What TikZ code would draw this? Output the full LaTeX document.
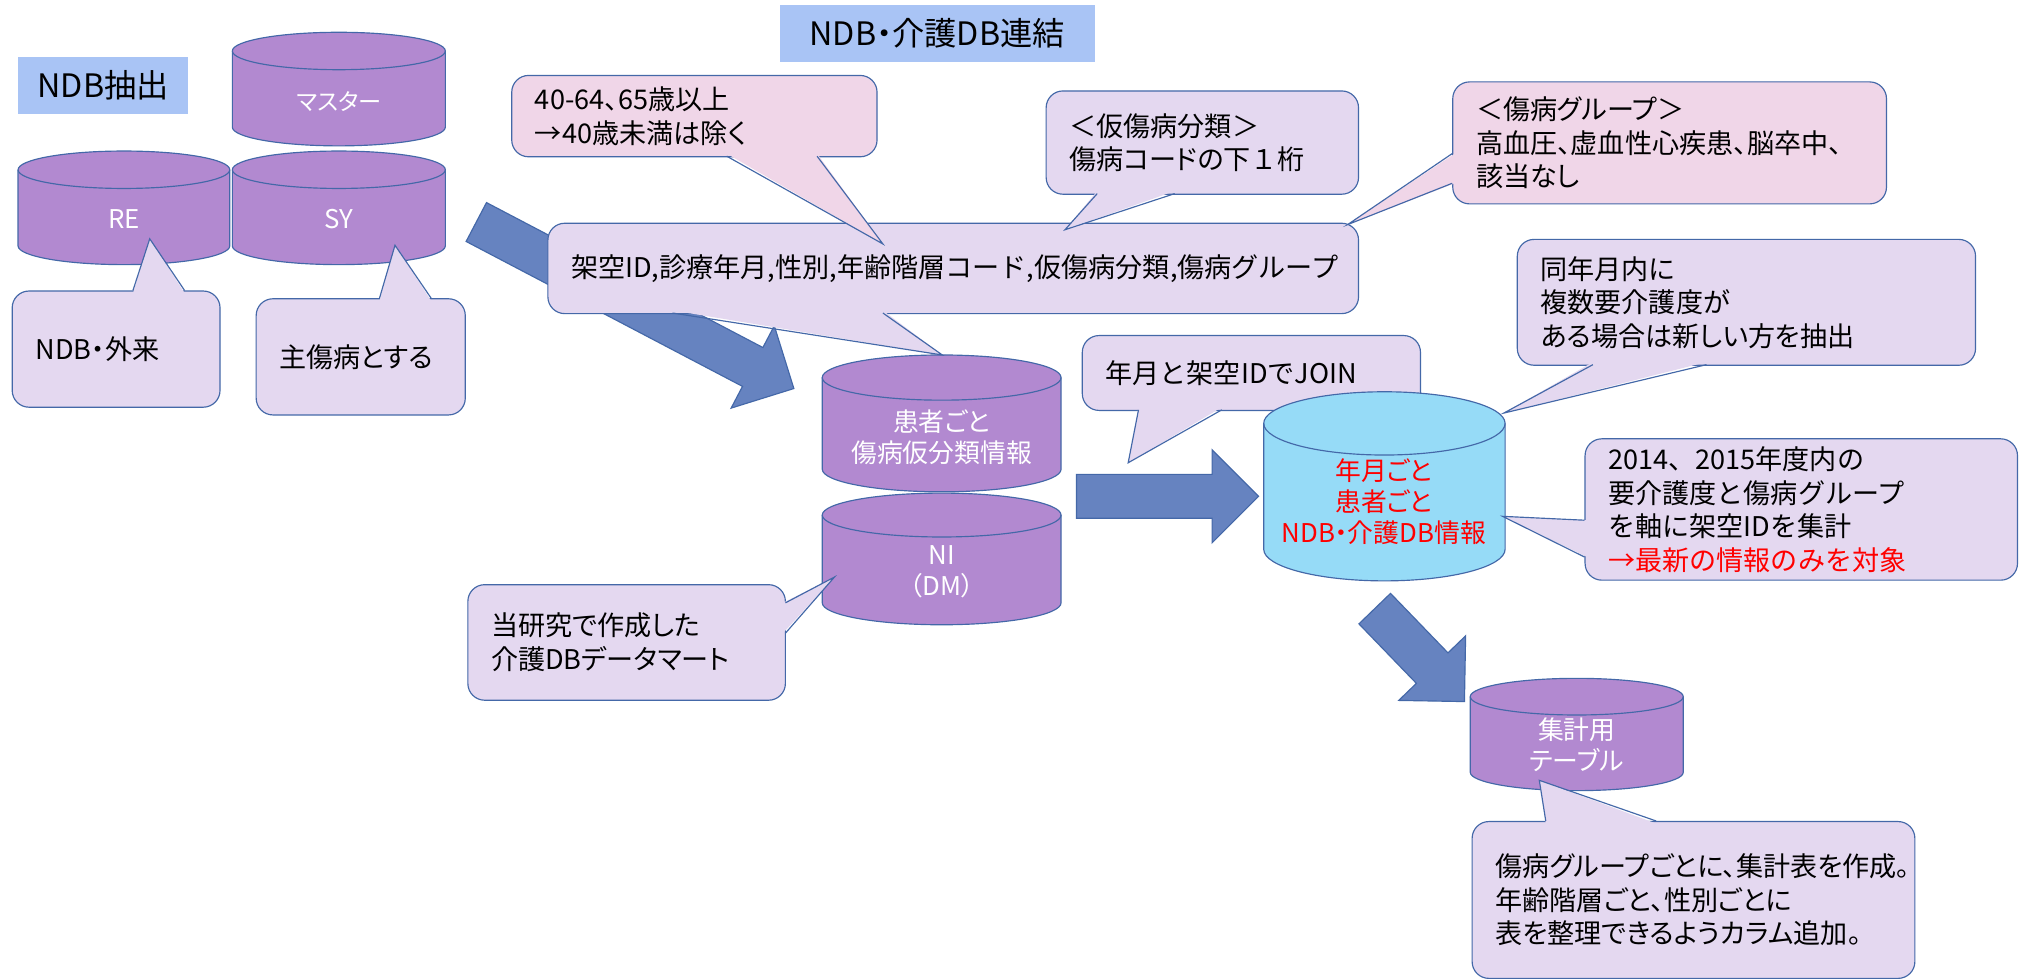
\documentclass[tikz,border=0pt]{standalone}
\usepackage{fontspec}
\setmainfont{Noto Sans CJK JP}
\newfontfamily\uifont{Noto Sans CJK JP}[RawFeature=+palt]
\usetikzlibrary{calc}

\definecolor{headblue}{RGB}{169,196,245}
\definecolor{dbpurple}{RGB}{178,137,208}
\definecolor{dbcyan}{RGB}{150,219,247}
\definecolor{notepurple}{RGB}{228,216,240}
\definecolor{notepink}{RGB}{240,214,232}
\definecolor{arrowblue}{RGB}{102,131,192}
\definecolor{edgeblue}{RGB}{68,104,168}

% callout tail: fill, base 1, tip, base 2, shift into the box
\newcommand\calltail[5]{%
    \fill[#1] ($#2+#5$) -- #3 -- ($#4+#5$) -- cycle;
    \draw[tailedge] #2 -- #3 -- #4;}

% database drum: style, left, top, width, height, y radius
\newcommand\dbcyl[6]{%
    \filldraw[#1] (#2,#3+#6) -- (#2,#3+#5-#6)
        arc[start angle=180, end angle=360, x radius=#4/2*1pt, y radius=#6*1pt]
        -- (#2+#4,#3+#6)
        arc[start angle=0, end angle=180, x radius=#4/2*1pt, y radius=#6*1pt] -- cycle;
    \draw[#1, fill=none] (#2,#3+#6)
        arc[start angle=180, end angle=360, x radius=#4/2*1pt, y radius=#6*1pt];}

% block arrow from tail to tip
\newcommand\fatarrow[2]{%
    \path #2 coordinate (fa tip) #1 coordinate (fa tail);
    \path ($(fa tip)!36pt!(fa tail)$) coordinate (fa head);
    \filldraw[blockarrow] ($(fa tail)!17pt!90:(fa tip)$) -- ($(fa head)!17pt!-90:(fa tail)$)
        -- ($(fa head)!36pt!-90:(fa tail)$) -- (fa tip) -- ($(fa head)!36pt!90:(fa tail)$)
        -- ($(fa head)!17pt!90:(fa tail)$) -- ($(fa tail)!17pt!-90:(fa tip)$) -- cycle;}

\begin{document}
\begin{tikzpicture}
    [x=1pt, y=-1pt,
    heading/.style={fill=headblue, inner sep=0pt, font=\uifont\fontsize{25}{30}\selectfont},
    db/.style={draw=edgeblue, line width=0.9pt, fill=dbpurple},
    dbtext/.style={text=white, align=center, inner sep=0pt, font=\uifont\fontsize{20}{24}\selectfont},
    note/.style={draw=edgeblue, line width=0.9pt, fill=notepurple, rounded corners=13pt,
        anchor=north west, inner xsep=18pt, inner ysep=0pt, align=left,
        font=\uifont\fontsize{21}{26}\selectfont},
    wide/.style={font=\normalfont\fontsize{21}{26}\selectfont},
    tailedge/.style={draw=edgeblue, line width=0.9pt},
    blockarrow/.style={draw=edgeblue, line width=0.9pt, fill=arrowblue}
    ]
    \fill[white] (0,0) rectangle (1568,758);
    \useasboundingbox (0,0) rectangle (1568,758);

    \node[heading, minimum width=132pt, minimum height=44pt] (ndbhead) at (80,66) {NDB抽出};
    \node[heading, minimum width=244pt, minimum height=44pt] (linkhead) at (726,26) {NDB・介護DB連結};

    % NDB tables
    \dbcyl{db}{180}{25}{165}{88}{14.5}
    \dbcyl{db}{14}{117}{164}{88}{14.5}
    \dbcyl{db}{180}{117}{165}{88}{14.5}
    \node[dbtext, font=\uifont\fontsize{18}{22}\selectfont] (master) at (262.5,79) {マスター};
    \node[dbtext] (re) at (96,170) {RE};
    \node[dbtext] (sy) at (262.5,170) {SY};

    \coordinate (extout) at (369,172);
    \coordinate (extin) at (615,301);
    \fatarrow{(extout)}{(extin)}

    \dbcyl{db}{637}{275}{185}{106}{17.5}
    \dbcyl{db}{637}{382}{185}{102}{17}
    \node[dbtext] (patient) at (729.5,339) {患者ごと\\傷病仮分類情報};
    \node[dbtext] (ni) at (729.5,443) {NI\\（DM）};

    \node[note, wide, text width=592pt, minimum height=70pt] (fields) at (424,172.5)
        {架空ID,診療年月,性別,年齢階層コード,仮傷病分類,傷病グループ};
    \calltail{notepurple}{(521,242.5)}{(730,275)}{(684,242.5)}{(0,-2)}

    \node[note, fill=notepink, text width=247pt, minimum height=63pt] (age) at (396,58)
        {40-64、65歳以上\\→40歳未満は除く};
    \calltail{notepink}{(563,121)}{(684,189)}{(633,121)}{(0,-2)}

    \node[note, text width=206pt, minimum height=80pt] (karibunrui) at (810,70)
        {＜仮傷病分類＞\\傷病コードの下{\normalfont １}桁};
    \calltail{notepurple}{(850,150)}{(825,178)}{(910,150)}{(0,-2)}

    \node[note, fill=notepink, text width=300pt, minimum height=94.5pt] (group) at (1125,63)
        {＜傷病グループ＞\\高血圧、虚血性心疾患、脳卒中、\\該当なし};
    \calltail{notepink}{(1125,119)}{(1044,174)}{(1125,142)}{(2,0)}

    \node[note, text width=125pt, minimum height=90pt] (gairai) at (9,225) {NDB・外来};
    \calltail{notepurple}{(103,225)}{(116,185)}{(143,225)}{(0,2)}

    \node[note, text width=126pt, minimum height=90pt] (shubyo) at (198,231) {主傷病とする};
    \calltail{notepurple}{(294,231)}{(306,190)}{(334,231)}{(0,2)}

    % join
    \coordinate (joinout) at (834,384.5);
    \coordinate (joinin) at (975,384.5);
    \fatarrow{(joinout)}{(joinin)}

    \node[note, wide, text width=226pt, minimum height=58pt] (join) at (838,259.5)
        {年月と架空IDでJOIN};
    \calltail{notepurple}{(882,317.5)}{(874,358.5)}{(946.5,317.5)}{(0,-2)}

    \dbcyl{db, fill=dbcyan}{979}{303.5}{187}{146.5}{24.5}
    \node[dbtext, text=red] (joined) at (1072,389) {年月ごと\\患者ごと\\NDB・介護DB情報};

    \node[note, text width=319pt, minimum height=97.5pt] (latest) at (1175,185)
        {同年月内に\\複数要介護度が\\ある場合は新しい方を抽出};
    \calltail{notepurple}{(1234,282.5)}{(1165,320)}{(1322,282.5)}{(0,-2)}

    \node[note, wide, text width=299pt, minimum height=109.5pt] (count) at (1227.5,339.5)
        {2014、2015年度内の\\要介護度と傷病グループ\\を軸に架空IDを集計\\\textcolor{red}{→最新の情報のみを対象}};
    \calltail{notepurple}{(1227.5,403)}{(1164,400)}{(1227.5,431.5)}{(2,0)}

    \node[note, text width=210pt, minimum height=89.5pt] (datamart) at (362,452.5)
        {当研究で作成した\\介護DBデータマート};
    \calltail{notepurple}{(608.5,467)}{(646.5,447)}{(608.5,490.5)}{(-2,0)}

    % summary table
    \coordinate (sumout) at (1065,471.5);
    \coordinate (sumin) at (1134.5,543.5);
    \fatarrow{(sumout)}{(sumin)}

    \dbcyl{db}{1139}{525.5}{165}{87}{14.2}
    \node[dbtext] (table) at (1221.5,577) {集計用\\テーブル};

    \node[note, text width=307pt, minimum height=121.5pt] (summary) at (1140,636)
        {傷病グループごとに、集計表を作成。\\年齢階層ごと、性別ごとに\\表を整理できるようカラム追加。};
    \calltail{notepurple}{(1197.5,636)}{(1192.5,604.5)}{(1283,636)}{(0,2)}
\end{tikzpicture}
\end{document}
